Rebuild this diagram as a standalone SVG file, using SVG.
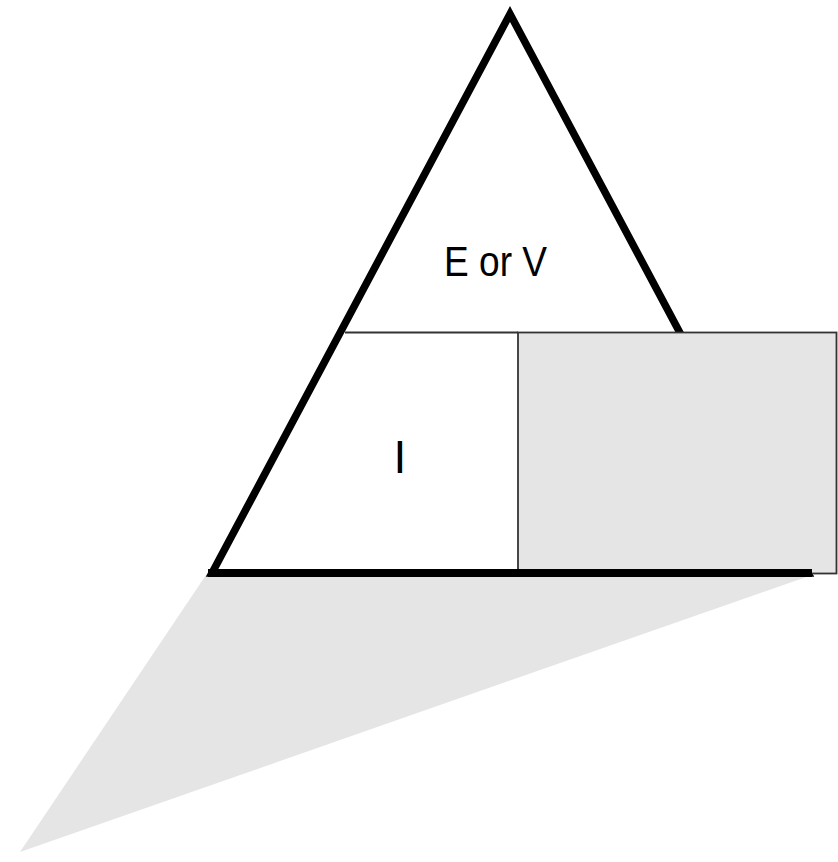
<svg xmlns="http://www.w3.org/2000/svg" width="838" height="862" viewBox="0 0 838 862">
<style>
.shade{fill:#e5e5e5;stroke:none}
.thick{fill:none;stroke:#000;stroke-width:7.5;stroke-linejoin:miter;stroke-miterlimit:10}
.thin{stroke:#333;stroke-width:1.8}
.lbl{font-family:"Liberation Sans",Arial,sans-serif;fill:#000}
</style>
<rect width="838" height="862" fill="#fff"/>
<g id="shadow">
<polygon class="shade" points="206,575 812,575 20,852"/>
</g>
<g id="triangle">
<polygon points="510,14 212,573 808,573" fill="#fff" class="thick"/>
</g>
<g id="connectors">
<line class="thin" x1="345" y1="332.5" x2="518" y2="332.5"/>
</g>
<g id="box">
<rect x="518" y="332.5" width="318.5" height="241" class="thin" style="fill:#e5e5e5"/>
</g>
<g id="base">
<line x1="208" y1="573" x2="812" y2="573" stroke="#000" stroke-width="8"/>
</g>
<g id="top-label">
<text class="lbl" x="444" y="276" font-size="42" textLength="103" lengthAdjust="spacingAndGlyphs">E or V</text>
</g>
<g id="left-label">
<text class="lbl" x="400" y="473" font-size="46" text-anchor="middle">I</text>
</g>
</svg>
